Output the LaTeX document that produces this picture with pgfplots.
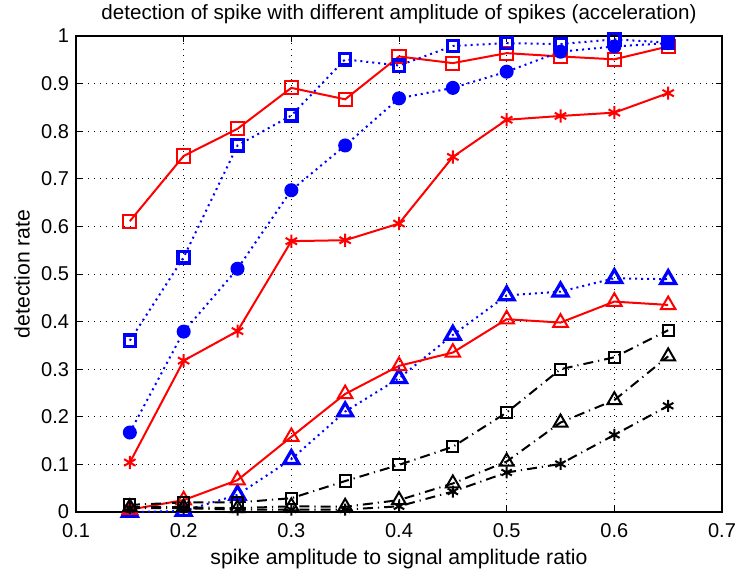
\documentclass[border=0pt]{standalone}
\usepackage{fontspec}
\setmainfont{Liberation Sans}
\usepackage{pgfplots}
\pgfplotsset{compat=1.18}
\definecolor{mred}{rgb}{1,0,0}
\definecolor{mblue}{rgb}{0,0,1}
\begin{document}
\begin{tikzpicture}
\begin{axis}[
  scale only axis, width=323pt, height=238pt,
  xmin=0.1, xmax=0.7, ymin=0, ymax=1,
  xtick={0.1,0.2,0.3,0.4,0.5,0.6,0.7},
  ytick={0,0.1,0.2,0.3,0.4,0.5,0.6,0.7,0.8,0.9,1},
  xticklabels={0.1,0.2,0.3,0.4,0.5,0.6,0.7},
  yticklabels={0,0.1,0.2,0.3,0.4,0.5,0.6,0.7,0.8,0.9,1},
  xtick pos=both, ytick pos=both, tick align=inside,
  major tick length=3pt,
  tick style={black, line width=0.5pt},
  grid=major,
  grid style={black, line width=0.5pt, dash pattern=on 0.5pt off 2.5pt},
  axis line style={line width=0.6pt},
  font=\fontsize{10.6}{12}\selectfont,
  tick label style={font=\fontsize{10}{11}\selectfont},
  xticklabel style={yshift=-2.15pt},
  every axis title shift=0pt,
  title={detection of spike with different amplitude of spikes (acceleration)},
  title style={at={(axis description cs:0.5,1)}, anchor=center, yshift=11pt, font=\fontsize{10.3}{12}\selectfont},
  xlabel={spike amplitude to signal amplitude ratio},
  ylabel={detection rate},
  xlabel style={at={(axis description cs:0.5,0)}, anchor=center, yshift=-23.5pt},
  ylabel style={at={(axis description cs:-0.0836,0.5)}, anchor=center},
  clip=false,
]
% red solid squares
\addplot[mred, line width=1pt, mark=square, mark size=3.3pt, mark options={solid, line width=1pt}] coordinates {
(0.15,0.611) (0.2,0.748) (0.25,0.805) (0.3,0.891) (0.35,0.867) (0.4,0.957) (0.45,0.943) (0.5,0.964) (0.55,0.957) (0.6,0.951) (0.65,0.978)};
% blue dotted squares
\addplot[mblue, line width=1pt, dash pattern=on 1pt off 2pt, mark=square, mark size=2.8pt, mark options={solid, line width=1.6pt}] coordinates {
(0.15,0.360) (0.2,0.535) (0.25,0.770) (0.3,0.833) (0.35,0.951) (0.4,0.938) (0.45,0.979) (0.5,0.985) (0.55,0.983) (0.6,0.993) (0.65,0.986)};
% blue dotted circles
\addplot[mblue, line width=1pt, dash pattern=on 1pt off 2pt, mark=*, mark size=3pt, mark options={solid, fill=mblue}] coordinates {
(0.15,0.167) (0.2,0.379) (0.25,0.511) (0.3,0.676) (0.35,0.770) (0.4,0.869) (0.45,0.891) (0.5,0.925) (0.55,0.967) (0.6,0.978) (0.65,0.985)};
% red solid asterisks
\addplot[mred, line width=1pt, mark=asterisk, mark size=3.3pt, mark options={solid, line width=1pt}] coordinates {
(0.15,0.104) (0.2,0.318) (0.25,0.380) (0.3,0.569) (0.35,0.571) (0.4,0.606) (0.45,0.746) (0.5,0.824) (0.55,0.832) (0.6,0.839) (0.65,0.880)};
% blue dotted triangles
\addplot[mblue, line width=1pt, dash pattern=on 1pt off 2pt, mark=triangle, mark size=4.3pt, mark options={solid, line width=1.6pt}] coordinates {
(0.15,0.0) (0.2,0.002) (0.25,0.036) (0.3,0.111) (0.35,0.211) (0.4,0.281) (0.45,0.372) (0.5,0.455) (0.55,0.463) (0.6,0.491) (0.65,0.489)};
% red solid triangles
\addplot[mred, line width=1pt, mark=triangle, mark size=4.2pt, mark options={solid, line width=1pt}] coordinates {
(0.15,0.005) (0.2,0.025) (0.25,0.067) (0.3,0.158) (0.35,0.248) (0.4,0.307) (0.45,0.335) (0.5,0.405) (0.55,0.398) (0.6,0.442) (0.65,0.435)};
% black dash-dot squares
\addplot[black, line width=1pt, dash pattern=on 5pt off 2.5pt on 0.6pt off 2.5pt, mark=square, mark size=2.8pt, mark options={solid, line width=1pt}] coordinates {
(0.15,0.015) (0.2,0.02) (0.25,0.02) (0.3,0.029) (0.35,0.065) (0.4,0.099) (0.45,0.137) (0.5,0.209) (0.55,0.300) (0.6,0.325) (0.65,0.382)};
% black dash-dot triangles
\addplot[black, line width=1pt, dash pattern=on 5pt off 2.5pt on 0.6pt off 2.5pt, mark=triangle, mark size=4pt, mark options={solid, line width=1pt}] coordinates {
(0.15,0.01) (0.2,0.01) (0.25,0.008) (0.3,0.012) (0.35,0.011) (0.4,0.025) (0.45,0.060) (0.5,0.106) (0.55,0.188) (0.6,0.235) (0.65,0.327)};
% black dash-dot asterisks
\addplot[black, line width=1pt, dash pattern=on 5pt off 2.5pt on 0.6pt off 2.5pt, mark=asterisk, mark size=3pt, mark options={solid, line width=1pt}] coordinates {
(0.15,0.008) (0.2,0.008) (0.25,0.005) (0.3,0.005) (0.35,0.005) (0.4,0.012) (0.45,0.043) (0.5,0.083) (0.55,0.101) (0.6,0.162) (0.65,0.223)};
\coordinate (sw) at (rel axis cs:0,0);
\coordinate (ne) at (rel axis cs:1,1);
\end{axis}
\pgfresetboundingbox
\path ([shift={(-38pt,-30.5pt)}]sw) rectangle ([shift={(7.5pt,18pt)}]ne);
\end{tikzpicture}
\end{document}
